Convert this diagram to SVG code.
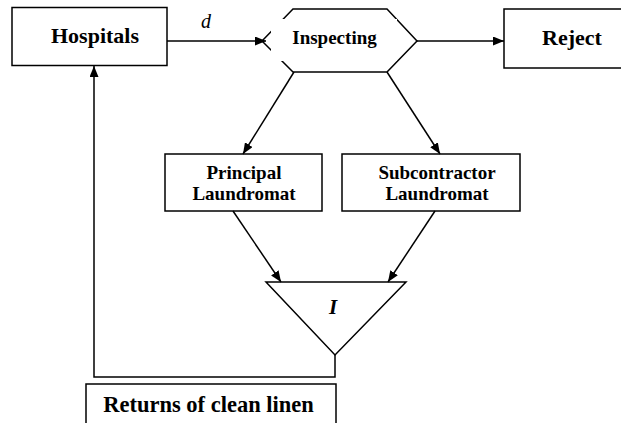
<svg xmlns="http://www.w3.org/2000/svg" width="621" height="423" viewBox="0 0 621 423">
<style>
.box{fill:#fff;stroke:#000;stroke-width:1.5}
.ln{fill:none;stroke:#000;stroke-width:1.5}
.t{font-family:"Liberation Serif","Times New Roman",serif;font-weight:bold;fill:#000;text-anchor:middle}
</style>
<defs>
<marker id="ah" viewBox="0 0 11 9" refX="11" refY="4.5" markerWidth="11" markerHeight="9" markerUnits="userSpaceOnUse" orient="auto">
<path d="M0,0 L11,4.5 L0,9 Z" fill="#000"/>
</marker>
</defs>
<g id="hospitals">
<rect class="box" x="12" y="7.5" width="155" height="58"/>
<text class="t" x="95" y="43" font-size="22">Hospitals</text>
</g>
<g id="inspecting">
<polygon class="box" points="293,9 387,9 417,41 387,72 293,72 262,41"/>
<rect x="271" y="19" width="126" height="42" fill="#fff"/>
<text class="t" x="334.5" y="44" font-size="19">Inspecting</text>
</g>
<g id="reject">
<rect class="box" x="504" y="9" width="125" height="59"/>
<text class="t" x="572" y="45" font-size="22">Reject</text>
</g>
<g id="principal">
<rect class="box" x="165" y="154" width="157" height="57"/>
<text class="t" x="244" y="179" font-size="19">Principal</text>
<text class="t" x="244" y="200" font-size="19">Laundromat</text>
</g>
<g id="subcontractor">
<rect class="box" x="342" y="154" width="178" height="57"/>
<text class="t" x="437" y="179" font-size="19">Subcontractor</text>
<text class="t" x="437" y="200" font-size="19">Laundromat</text>
</g>
<g id="inventory">
<polygon class="box" points="266,282 406,282 335,355"/>
<text class="t" x="333" y="314" font-size="21" font-style="italic">I</text>
</g>
<g id="returns">
<rect class="box" x="86" y="384" width="250" height="50"/>
<text class="t" x="208.5" y="412" font-size="22.5">Returns of clean linen</text>
</g>
<g id="connectors">
<line class="ln" x1="167" y1="41" x2="266" y2="41" marker-end="url(#ah)"/>
<text x="206" y="28" font-family="Liberation Serif,serif" font-style="italic" font-size="20" text-anchor="middle">d</text>
<line class="ln" x1="417" y1="41" x2="504" y2="41" marker-end="url(#ah)"/>
<line class="ln" x1="294" y1="72" x2="243" y2="154" marker-end="url(#ah)"/>
<line class="ln" x1="387" y1="72" x2="440" y2="154" marker-end="url(#ah)"/>
<line class="ln" x1="233" y1="211" x2="281" y2="282" marker-end="url(#ah)"/>
<line class="ln" x1="435" y1="211" x2="388" y2="282" marker-end="url(#ah)"/>
<polyline class="ln" points="335,355 335,377 94,377 94,66" marker-end="url(#ah)"/>
</g>
</svg>
